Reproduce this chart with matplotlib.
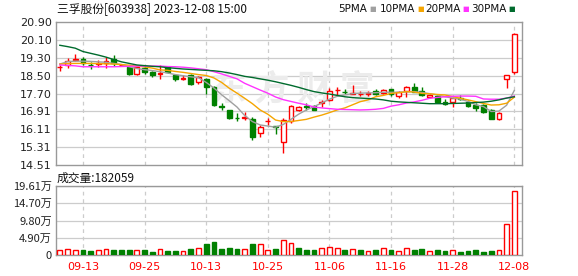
import matplotlib
matplotlib.use("Agg")
import matplotlib.pyplot as plt

plt.rcParams['font.family'] = ['DejaVu Sans', 'Noto Sans CJK SC']

# %% data
dates = ['09-08', '09-11', '09-12', '09-13', '09-14', '09-15', '09-18', '09-19', '09-20', '09-21',
         '09-22', '09-25', '09-26', '09-27', '09-28', '10-09', '10-10', '10-11', '10-12', '10-13',
         '10-16', '10-17', '10-18', '10-19', '10-20', '10-23', '10-24', '10-25', '10-26', '10-27',
         '10-30', '10-31', '11-01', '11-02', '11-03', '11-06', '11-07', '11-08', '11-09', '11-10',
         '11-13', '11-14', '11-15', '11-16', '11-17', '11-20', '11-21', '11-22', '11-23', '11-24',
         '11-27', '11-28', '11-29', '11-30', '12-01', '12-04', '12-05', '12-06', '12-07', '12-08']

opens = [18.88, 18.97, 19.22, 19.23, 18.98, 19.04, 19.05, 19.23, 18.97, 18.88,
         18.56, 18.83, 18.68, 18.58, 18.88, 18.53, 18.36, 18.55, 18.23, 18.35,
         18.01, 17.14, 16.97, 16.62, 16.62, 16.55, 15.93, 16.46, 16.25, 15.55,
         16.46, 16.97, 17.13, 17.15, 17.30, 17.41, 17.85, 17.79, 17.70, 17.67,
         17.69, 17.83, 17.74, 17.89, 17.59, 17.83, 18.01, 17.83, 17.54, 17.59,
         17.34, 17.34, 17.50, 17.34, 17.19, 17.19, 16.97, 16.57, 18.36, 18.65]
highs = [18.98, 19.27, 19.47, 19.32, 19.11, 19.20, 19.35, 19.42, 19.02, 18.90,
         18.90, 18.93, 18.70, 18.98, 18.95, 18.58, 18.53, 18.58, 18.48, 18.40,
         18.06, 17.28, 16.99, 16.83, 16.89, 16.67, 16.28, 16.60, 16.27, 16.60,
         17.18, 17.15, 17.28, 17.17, 17.41, 17.93, 18.01, 17.90, 18.09, 17.80,
         17.80, 17.90, 17.90, 17.92, 17.83, 18.03, 18.16, 17.99, 17.68, 17.64,
         17.45, 17.52, 17.64, 17.41, 17.26, 17.24, 17.03, 16.90, 18.55, 20.40]
lows = [18.73, 18.85, 19.17, 18.98, 18.79, 18.88, 18.83, 18.93, 18.92, 18.53,
        18.54, 18.58, 18.46, 18.34, 18.62, 18.28, 18.31, 18.10, 18.13, 17.67,
        17.15, 16.97, 16.58, 16.47, 16.50, 15.63, 15.78, 16.30, 15.88, 15.06,
        16.40, 16.92, 16.99, 16.96, 17.12, 17.38, 17.64, 17.67, 17.68, 17.60,
        17.60, 17.62, 17.70, 17.60, 17.50, 17.57, 17.75, 17.59, 17.50, 17.33,
        17.19, 17.10, 17.40, 17.12, 16.94, 16.84, 16.55, 16.52, 17.97, 18.56]
closes = [18.90, 19.16, 19.24, 19.05, 18.96, 19.06, 19.17, 19.05, 18.98, 18.56,
          18.88, 18.68, 18.53, 18.62, 18.68, 18.34, 18.39, 18.13, 18.46, 18.01,
          17.19, 17.11, 16.60, 16.60, 16.66, 15.75, 16.22, 16.48, 16.21, 16.52,
          17.14, 17.09, 17.11, 16.99, 17.33, 17.83, 17.88, 17.76, 17.73, 17.69,
          17.71, 17.68, 17.86, 17.68, 17.79, 18.01, 17.79, 17.64, 17.64, 17.34,
          17.24, 17.49, 17.47, 17.15, 17.07, 16.89, 16.57, 16.85, 18.53, 20.38]

# volume in 万
vols = [1.4, 1.7, 1.4, 1.4, 1.1, 1.4, 1.7, 1.4, 1.4, 1.4,
        1.3, 1.4, 0.9, 1.6, 1.1, 1.1, 1.1, 1.7, 1.9, 3.1,
        3.7, 1.7, 2.0, 1.7, 1.7, 3.1, 3.1, 1.3, 1.7, 4.3,
        3.4, 2.0, 1.4, 1.4, 1.9, 2.2, 1.9, 1.4, 1.6, 1.4,
        1.1, 1.4, 1.9, 1.4, 1.1, 1.9, 1.4, 1.7, 1.1, 1.4,
        1.1, 1.4, 0.9, 1.1, 1.4, 0.9, 1.1, 1.4, 8.8, 18.21]
vol_up = [1, 1, 1, 0, 0, 1, 1, 0, 0, 0,
          1, 0, 0, 1, 0, 0, 1, 0, 1, 0,
          0, 0, 0, 0, 1, 0, 1, 1, 0, 1,
          1, 0, 0, 0, 1, 1, 1, 0, 1, 0,
          1, 0, 1, 0, 1, 1, 0, 0, 1, 0,
          0, 1, 0, 0, 0, 0, 0, 1, 1, 1]

ma5 = [19.02, 19.13, 19.15, 19.15, 19.14, 19.12, 19.10, 19.05, 19.00, 18.90,
       18.82, 18.77, 18.73, 18.68, 18.62, 18.55, 18.50, 18.45, 18.41, 18.20,
       17.95, 17.65, 17.38, 17.10, 16.72, 16.45, 16.30, 16.25, 16.20, 16.32,
       16.55, 16.78, 16.97, 17.12, 17.28, 17.45, 17.58, 17.64, 17.70, 17.72,
       17.73, 17.74, 17.76, 17.76, 17.76, 17.78, 17.79, 17.75, 17.70, 17.64,
       17.56, 17.50, 17.45, 17.35, 17.20, 17.12, 16.90, 16.92, 17.18, 17.84]
ma10 = [19.02, 19.04, 19.05, 19.05, 19.05, 19.04, 19.03, 19.02, 19.00, 18.97,
        18.93, 18.89, 18.84, 18.76, 18.74, 18.69, 18.65, 18.60, 18.55, 18.51,
        18.40, 18.20, 17.94, 17.72, 17.49, 17.25, 16.97, 16.78, 16.52, 16.45,
        16.45, 16.50, 16.55, 16.65, 16.74, 16.85, 16.97, 17.06, 17.20, 17.34,
        17.42, 17.56, 17.62, 17.71, 17.74, 17.79, 17.77, 17.71, 17.69, 17.66,
        17.64, 17.57, 17.49, 17.42, 17.34, 17.26, 17.19, 17.20, 17.27, 17.54]
ma20 = [18.98, 18.96, 18.94, 18.90, 18.90, 18.90, 18.90, 18.90, 18.91, 18.92,
        18.93, 18.93, 18.93, 18.93, 18.91, 18.90, 18.88, 18.85, 18.81, 18.77,
        18.68, 18.58, 18.47, 18.36, 18.16, 18.01, 17.86, 17.72, 17.55, 17.43,
        17.35, 17.27, 17.20, 17.10, 17.06, 17.03, 17.00, 16.99, 16.98, 16.97,
        16.98, 17.00, 17.04, 17.14, 17.20, 17.28, 17.33, 17.40, 17.49, 17.53,
        17.56, 17.58, 17.59, 17.59, 17.58, 17.46, 17.45, 17.45, 17.50, 17.59]
ma30 = [19.86, 19.80, 19.73, 19.58, 19.50, 19.42, 19.33, 19.22, 19.12, 19.05,
        18.98, 18.95, 18.92, 18.90, 18.86, 18.83, 18.80, 18.78, 18.76, 18.74,
        18.72, 18.68, 18.62, 18.55, 18.47, 18.42, 18.36, 18.30, 18.23, 18.15,
        18.07, 17.98, 17.88, 17.79, 17.73, 17.68, 17.62, 17.56, 17.52, 17.50,
        17.48, 17.46, 17.42, 17.36, 17.33, 17.31, 17.29, 17.27, 17.25, 17.25,
        17.25, 17.26, 17.27, 17.28, 17.30, 17.32, 17.36, 17.42, 17.50, 17.56]

price_ticks = [14.51, 15.31, 16.11, 16.91, 17.70, 18.50, 19.30, 20.10, 20.90]
price_labels = ['14.51', '15.31', '16.11', '16.91', '17.70', '18.50', '19.30', '20.10', '20.90']
vol_ticks = [0, 4.90, 9.80, 14.70, 19.61]
vol_labels = ['0', '4.90万', '9.80万', '14.70万', '19.61万']

RED = '#ff0000'
GREEN = '#008000'
FRAME = '#999999'
GRID = '#cccccc'
cjk = ['Noto Sans CJK SC', 'DejaVu Sans']

fig = plt.figure(figsize=(5.78, 2.76), dpi=100)
ax = fig.add_axes([56 / 578, 111 / 276, 466 / 578, 143 / 276])
axv = fig.add_axes([56 / 578, 21 / 276, 466 / 578, 69 / 276])

n = len(closes)
xs = list(range(n))
tick_idx = list(range(3, n, 8))

for a in (ax, axv):
    a.set_xlim(-0.5, 60.0)
    for s in a.spines.values():
        s.set_color(FRAME)
        s.set_linewidth(1.0)
    for t in tick_idx:
        a.axvline(t, color=GRID, lw=0.9, ls=(0, (3, 3)), zorder=0)
    a.tick_params(length=0, labelsize=8, colors='#222222', pad=3)

# %% candles
ax.set_ylim(price_ticks[0], price_ticks[-1])
for y in price_ticks[1:-1]:
    ax.axhline(y, color=GRID, lw=0.9, zorder=0)

# faint watermark, behind the candles
ax.text(293 / 578, 1 - 89 / 276, '东 方 财 富', transform=fig.transFigure, fontsize=25,
        family=cjk, color='#ececec', ha='center', va='center', zorder=1, fontweight='bold')

for i in xs:
    o, h, l, c = opens[i], highs[i], lows[i], closes[i]
    up = c >= o
    col = RED if up else GREEN
    ax.vlines(i, l, h, color=col, lw=1.0, zorder=2)
    body = max(abs(c - o), 0.012)
    ax.bar(i, body, bottom=min(o, c), width=0.62,
           facecolor='white' if up else col, edgecolor=col, linewidth=1.0, zorder=3)

ax.plot(xs, ma5, color='#a0a0a0', lw=1.0, zorder=4)
ax.plot(xs, ma10, color='#f5a500', lw=1.0, zorder=4)
ax.plot(xs, ma20, color='#ff33ff', lw=1.0, zorder=4)
ax.plot(xs, ma30, color='#006b2d', lw=1.0, zorder=4)

ax.set_yticks(price_ticks)
ax.set_yticklabels(price_labels)
ax.set_xticks([])

# %% volume
axv.set_ylim(0, vol_ticks[-1])
for y in vol_ticks[1:]:
    axv.axhline(y, color=GRID, lw=0.9, zorder=0)
for i in xs:
    col = RED if vol_up[i] else GREEN
    axv.bar(i, vols[i], width=0.62, facecolor='white' if vol_up[i] else col,
            edgecolor=col, linewidth=1.0, zorder=3)
axv.set_yticks(vol_ticks)
axv.set_yticklabels(vol_labels, family=cjk)
axv.set_xticks(tick_idx)
axv.set_xticklabels([dates[t] for t in tick_idx], color=RED, fontsize=8)
axv.tick_params(axis='x', pad=5)

# %% header texts
fig.text(57 / 578, 1 - 9 / 276, '三孚股份[603938] 2023-12-08 15:00', family=cjk,
         fontsize=8.5, va='center', ha='left', color='#111111')
fig.text(57 / 578, 1 - 178 / 276, '成交量:182059', family=cjk,
         fontsize=8.5, va='center', ha='left', color='#111111')

legend_items = [('5PMA', '#a0a0a0', 338), ('10PMA', '#f5a500', 380),
                ('20PMA', '#ff33ff', 425), ('30PMA', '#006b2d', 471)]
for label, col, x0 in legend_items:
    t = fig.text(x0 / 578, 1 - 9 / 276, label, fontsize=7.5, va='center', ha='left', color='#111111')
    fig.canvas.draw()
    bb = t.get_window_extent()
    fig.text((bb.x1 + 2) / 578, 1 - 9 / 276, '■', fontsize=5, va='center', ha='left', color=col)

fig.savefig('out.png', dpi=100)
